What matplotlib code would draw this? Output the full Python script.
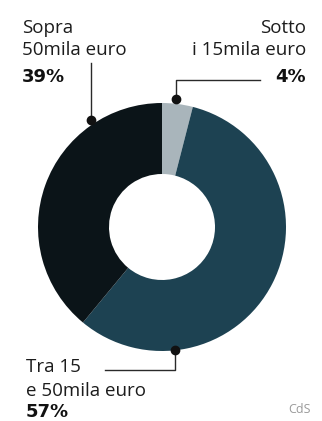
import matplotlib.pyplot as plt

# data
labels = ["Sotto\ni 15mila euro", "Tra 15\ne 50mila euro", "Sopra\n50mila euro"]
values = [4, 57, 39]
pct_labels = ["4%", "57%", "39%"]
colors = ["#a9b5bb", "#1d4252", "#0b1418"]

W, H = 322, 421
fig = plt.figure(figsize=(W / 100, H / 100), dpi=100)
ax = fig.add_axes([0, 0, 1, 1])


def Y(y):
    # image pixel row -> data y
    return H - y


cx, cy = 162, Y(227)
ax.pie(values, colors=colors, startangle=90, counterclock=False,
       center=(cx, cy), radius=124, frame=True,
       wedgeprops=dict(width=71, linewidth=0))
ax.set_xlim(0, W)
ax.set_ylim(0, H)
ax.set_aspect("equal")
ax.axis("off")

font = "Open Sans"
fs = 13.5
txt_col = "#1c1c1c"
line_col = "#2a2a2a"
bold = dict(fontsize=13, family="DejaVu Sans", weight="bold", color="#111", va="baseline")

# Sopra 50mila euro (top left)
ax.text(22, Y(33), "Sopra", fontsize=fs, family=font, color=txt_col, va="baseline")
ax.text(22, Y(55), "50mila euro", fontsize=fs, family=font, color=txt_col, va="baseline")
ax.text(22, Y(82), pct_labels[2], **bold)
ax.plot([91, 91], [Y(63), Y(120)], color=line_col, lw=1)
ax.plot(91, Y(120), "o", color="#111", ms=6)

# Sotto i 15mila euro (top right)
ax.text(306, Y(33), "Sotto", fontsize=fs, family=font, color=txt_col, va="baseline", ha="right")
ax.text(306, Y(55), "i 15mila euro", fontsize=fs, family=font, color=txt_col, va="baseline", ha="right")
ax.text(306, Y(82), pct_labels[0], ha="right", **bold)
ax.plot([176, 176, 260], [Y(99), Y(80), Y(80)], color=line_col, lw=1)
ax.plot(176, Y(99), "o", color="#111", ms=6)

# Tra 15 e 50mila euro (bottom left)
ax.text(26, Y(372), "Tra 15", fontsize=fs, family=font, color=txt_col, va="baseline")
ax.text(26, Y(396), "e 50mila euro", fontsize=fs, family=font, color=txt_col, va="baseline")
ax.text(26, Y(417), pct_labels[1], **bold)
ax.plot([175, 175, 105], [Y(350), Y(370), Y(370)], color=line_col, lw=1)
ax.plot(175, Y(350), "o", color="#111", ms=6)

# source
ax.text(288, Y(413), "CdS", fontsize=9, family=font, color="#9a9a9a", va="baseline")

fig.savefig("out.png", dpi=100)
